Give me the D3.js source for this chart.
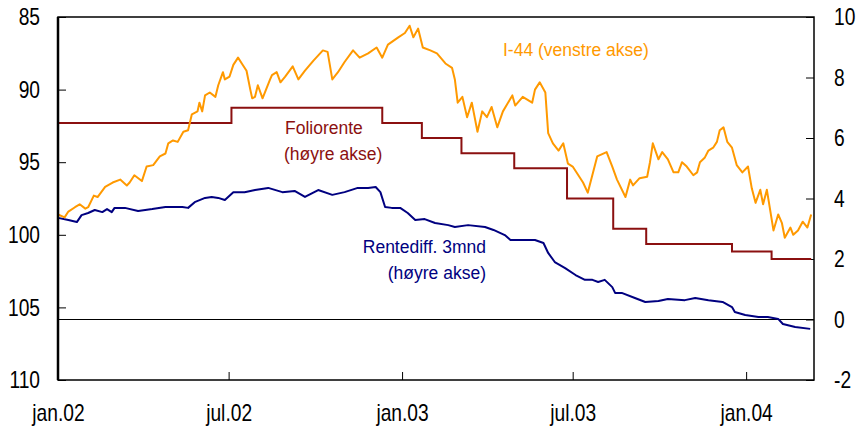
<!DOCTYPE html>
<html>
<head>
<meta charset="utf-8">
<script src="https://cdn.jsdelivr.net/npm/d3@7"></script>
<style>
  body { margin: 0; background: #fff; }
  svg text { font-family: "Liberation Sans", Arial, sans-serif; }
  .axis text { font-size: 24px; fill: #000; }
  .axis line { stroke: #000; }
</style>
</head>
<body>
<div id="chart"></div>
<script>
// I-44 (venstre akse)
var i44Dates = ["2002-01-01","2002-01-08","2002-01-12","2002-01-19","2002-01-24","2002-01-30","2002-02-02","2002-02-08","2002-02-12","2002-02-20",
  "2002-02-28","2002-03-08","2002-03-15","2002-03-18","2002-03-23","2002-03-31","2002-04-05","2002-04-12","2002-04-19","2002-04-25",
  "2002-04-28","2002-05-03","2002-05-08","2002-05-14","2002-05-19","2002-05-23","2002-05-29","2002-05-31","2002-06-03","2002-06-06",
  "2002-06-11","2002-06-17","2002-06-20","2002-06-25","2002-06-27","2002-07-02","2002-07-06","2002-07-11","2002-07-15","2002-07-20",
  "2002-07-24","2002-07-26","2002-07-29","2002-08-01","2002-08-06","2002-08-14","2002-08-16","2002-08-21","2002-08-25","2002-08-30",
  "2002-09-07","2002-09-13","2002-09-20","2002-09-29","2002-10-09","2002-10-14","2002-10-19","2002-10-25","2002-11-01","2002-11-10",
  "2002-11-17","2002-11-26","2002-12-05","2002-12-11","2002-12-17","2002-12-28","2003-01-04","2003-01-09","2003-01-13","2003-01-18",
  "2003-01-23","2003-01-31","2003-02-07","2003-02-16","2003-02-23","2003-02-26","2003-03-01","2003-03-06","2003-03-11","2003-03-16",
  "2003-03-22","2003-03-27","2003-04-01","2003-04-06","2003-04-12","2003-04-18","2003-04-28","2003-05-01","2003-05-09","2003-05-19",
  "2003-05-22","2003-05-27","2003-06-02","2003-06-05","2003-06-10","2003-06-16","2003-06-21","2003-06-26","2003-07-01","2003-07-12",
  "2003-07-17","2003-07-27","2003-08-06","2003-08-12","2003-08-17","2003-08-26","2003-08-31","2003-09-03","2003-09-10","2003-09-18",
  "2003-09-21","2003-09-24","2003-09-30","2003-10-04","2003-10-10","2003-10-16","2003-10-21","2003-10-25","2003-10-30","2003-11-06",
  "2003-11-10","2003-11-13","2003-11-18","2003-11-22","2003-11-27","2003-12-01","2003-12-04","2003-12-08","2003-12-12","2003-12-17",
  "2003-12-22","2003-12-28","2004-01-03","2004-01-07","2004-01-11","2004-01-16","2004-01-19","2004-01-23","2004-01-26","2004-01-30",
  "2004-02-04","2004-02-08","2004-02-11","2004-02-17","2004-02-20","2004-02-25","2004-03-01","2004-03-06","2004-03-10"];
var i44Values = [98.6,98.8,98.4,98.1,97.9,98.2,98.1,97.3,97.4,96.7,
  96.4,96.2,96.6,96.4,95.9,96.3,95.3,95.2,94.6,94.4,
  93.7,93.5,93.6,92.9,92.8,91.7,91.5,90.9,91.5,90.4,
  90.2,90.5,89.7,88.8,89.3,89.1,88.3,87.8,88.2,88.7,
  90.0,90.6,90.5,89.7,90.6,89.3,89.0,88.8,89.5,89.1,
  88.4,89.3,88.7,88.0,87.3,87.4,89.3,88.8,88.1,87.3,
  87.8,87.5,87.1,87.8,86.9,86.4,86.1,85.6,86.4,85.8,
  87.1,87.3,87.5,88.2,88.5,89.3,90.9,90.5,91.9,90.9,
  92.9,91.5,91.9,91.2,92.6,91.5,90.4,91.1,90.5,90.9,
  90.0,89.5,90.2,93.0,93.7,94.2,93.7,95.1,95.3,96.4,
  97.1,94.6,94.3,95.3,96.2,97.4,96.2,96.6,96.1,96.0,
  95.0,93.7,94.8,94.3,94.8,95.7,95.7,95.0,95.3,95.9,
  95.7,95.0,94.7,94.2,94.0,93.6,92.8,92.6,93.6,94.0,
  95.2,95.7,95.3,96.8,97.8,96.9,97.9,96.9,98.1,99.7,
  98.6,99.2,100.2,99.5,100.0,99.7,99.1,99.5,98.6];

// Rentediff. 3mnd (høyre akse)
var diffDates = ["2002-01-01","2002-01-12","2002-01-21","2002-01-26","2002-02-02","2002-02-09","2002-02-17","2002-02-22","2002-02-27","2002-03-02",
  "2002-03-13","2002-03-27","2002-04-11","2002-04-25","2002-05-13","2002-05-19","2002-05-26","2002-06-06","2002-06-13","2002-06-20",
  "2002-06-27","2002-07-06","2002-07-18","2002-07-29","2002-08-12","2002-08-27","2002-09-09","2002-09-20","2002-10-04","2002-10-19",
  "2002-11-01","2002-11-15","2002-11-26","2002-12-04","2002-12-09","2002-12-14","2002-12-21","2002-12-30","2003-01-07","2003-01-15",
  "2003-01-25","2003-02-05","2003-02-19","2003-02-26","2003-03-12","2003-03-30","2003-04-08","2003-04-20","2003-04-26","2003-05-11",
  "2003-05-22","2003-05-31","2003-06-05","2003-06-12","2003-06-23","2003-07-04","2003-07-14","2003-07-22","2003-07-28","2003-08-04",
  "2003-08-12","2003-08-15","2003-08-22","2003-09-05","2003-09-16","2003-09-30","2003-10-10","2003-10-28","2003-11-08","2003-11-22",
  "2003-12-07","2003-12-17","2003-12-20","2003-12-31","2004-01-14","2004-01-24","2004-02-04","2004-02-09","2004-02-22","2004-03-09"];
var diffValues = [3.36,3.29,3.22,3.45,3.52,3.62,3.55,3.65,3.55,3.69,
  3.69,3.59,3.65,3.72,3.72,3.69,3.88,4.02,4.05,4.02,
  3.95,4.21,4.21,4.28,4.35,4.21,4.25,4.05,4.28,4.12,
  4.21,4.35,4.35,4.38,4.21,3.72,3.69,3.69,3.52,3.29,
  3.32,3.19,3.12,3.06,3.12,3.06,2.96,2.79,2.63,2.63,
  2.63,2.53,2.20,1.90,1.70,1.47,1.31,1.31,1.24,1.31,
  1.07,0.88,0.88,0.71,0.58,0.61,0.68,0.64,0.71,0.64,
  0.58,0.41,0.25,0.15,0.08,0.08,0.02,-0.15,-0.25,-0.31];

// Foliorente (høyre akse) - step changes
var folioDates = ["2002-01-01","2002-07-04","2002-12-11","2003-01-22","2003-03-05","2003-04-30","2003-06-25","2003-08-13","2003-09-17","2003-12-17","2004-01-28","2004-03-10"];
var folioValues = [6.5,7.0,6.5,6.0,5.5,5.0,4.0,3.0,2.5,2.25,2.0,2.0];

var xTickDates = ["2002-01-01","2002-07-01","2003-01-01","2003-07-01","2004-01-01"];
var leftTicks = [85,90,95,100,105,110];
var rightTicks = [-2,0,2,4,6,8,10];
var monthNames = ["jan","feb","mar","apr","mai","jun","jul","aug","sep","okt","nov","des"];

var width = 859, height = 434;
var margin = { left: 58, right: 45, top: 17, bottom: 54 };
var narrow = 0.8; // tick labels in the original use a narrow face
var parse = d3.timeParse("%Y-%m-%d");

var svg = d3.select("#chart").append("svg")
  .attr("width", width).attr("height", height);

var x = d3.scaleTime()
  .domain([parse("2002-01-01"), parse("2004-03-13")])
  .range([margin.left, width - margin.right]);
var yL = d3.scaleLinear().domain([85, 110]).range([margin.top, height - margin.bottom]);
var yR = d3.scaleLinear().domain([10, -2]).range([margin.top, height - margin.bottom]);

var i44 = i44Dates.map(function (d, i) { return { date: parse(d), value: i44Values[i] }; });
var diff = diffDates.map(function (d, i) { return { date: parse(d), value: diffValues[i] }; });
var folio = folioDates.map(function (d, i) { return { date: parse(d), value: folioValues[i] }; });

// squeeze tick labels horizontally, keeping their anchor point
function squeeze(g) {
  g.select(".domain").remove();
  g.selectAll("text").each(function () {
    var t = d3.select(this);
    var tx = +t.attr("x") || 0;
    t.attr("x", 0).attr("transform", "translate(" + tx + ",0) scale(" + narrow + ",1)");
  });
}

// zero line on right axis
svg.append("line")
  .attr("x1", x.range()[0]).attr("x2", x.range()[1])
  .attr("y1", yR(0)).attr("y2", yR(0))
  .attr("stroke", "#000").attr("stroke-width", 1);

// axes
svg.append("g").attr("class", "axis")
  .attr("transform", "translate(0," + yL.range()[1] + ")")
  .call(d3.axisBottom(x).tickValues(xTickDates.map(parse)).tickSize(-8).tickPadding(24)
    .tickFormat(function (d) { return monthNames[d.getMonth()] + "." + d3.timeFormat("%y")(d); }))
  .call(squeeze)
  .call(function (g) { g.selectAll("line").attr("stroke", "#888"); });

svg.append("g").attr("class", "axis")
  .attr("transform", "translate(" + x.range()[0] + ",0)")
  .call(d3.axisLeft(yL).tickValues(leftTicks).tickSize(-8).tickPadding(18))
  .call(squeeze);

svg.append("g").attr("class", "axis")
  .attr("transform", "translate(" + x.range()[1] + ",0)")
  .call(d3.axisRight(yR).tickValues(rightTicks).tickSize(-8).tickPadding(20)
    .tickFormat(function (d) { return String(d); }))
  .call(squeeze);

// lines
var lineL = d3.line().x(function (d) { return x(d.date); }).y(function (d) { return yL(d.value); });
var lineR = d3.line().x(function (d) { return x(d.date); }).y(function (d) { return yR(d.value); });
var stepR = d3.line().curve(d3.curveStepAfter).x(function (d) { return x(d.date); }).y(function (d) { return yR(d.value); });

svg.append("path").datum(folio).attr("d", stepR)
  .attr("fill", "none").attr("stroke", "#8b1010").attr("stroke-width", 2);
svg.append("path").datum(diff).attr("d", lineR)
  .attr("fill", "none").attr("stroke", "#000080").attr("stroke-width", 2).attr("stroke-linejoin", "round");
svg.append("path").datum(i44).attr("d", lineL)
  .attr("fill", "none").attr("stroke", "#ff9900").attr("stroke-width", 2).attr("stroke-linejoin", "round");

// frame
svg.append("rect")
  .attr("x", x.range()[0]).attr("y", yL.range()[0])
  .attr("width", x.range()[1] - x.range()[0]).attr("height", yL.range()[1] - yL.range()[0])
  .attr("fill", "none").attr("stroke", "#000").attr("stroke-width", 1.5);
svg.append("line")
  .attr("x1", x.range()[0]).attr("x2", x.range()[0])
  .attr("y1", yL.range()[0]).attr("y2", yL.range()[1])
  .attr("stroke", "#000").attr("stroke-width", 2.5);

// series labels
svg.append("text").attr("x", 503).attr("y", 56)
  .attr("font-size", 17.5).attr("fill", "#ff9900").text("I-44 (venstre akse)");
svg.append("text").attr("x", 285).attr("y", 134)
  .attr("font-size", 17.5).attr("fill", "#8b1010").text("Foliorente");
svg.append("text").attr("x", 284).attr("y", 160)
  .attr("font-size", 17.5).attr("fill", "#8b1010").text("(høyre akse)");
svg.append("text").attr("x", 486).attr("y", 253).attr("text-anchor", "end")
  .attr("font-size", 17.5).attr("fill", "#000080").text("Rentediff. 3mnd");
svg.append("text").attr("x", 486).attr("y", 279).attr("text-anchor", "end")
  .attr("font-size", 17.5).attr("fill", "#000080").text("(høyre akse)");
</script>
</body>
</html>
